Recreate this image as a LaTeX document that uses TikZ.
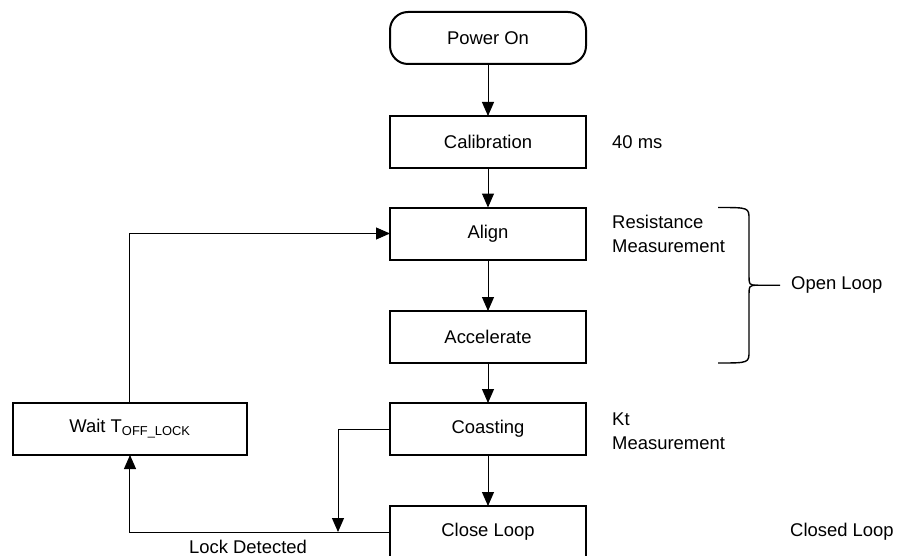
\documentclass[tikz,border=0pt]{standalone}
\usepackage{fontspec}
\setmainfont{Liberation Sans}
\usetikzlibrary{calc,positioning,arrows.meta}
\newcommand{\flowfont}{\fontsize{18.5}{24}\selectfont}
\tikzset{
	every node/.style={font=\flowfont},
	procbox/.style={draw, line width=2bp, outer sep=0pt, minimum width=196bp, minimum height=52bp, inner sep=0pt},
	startbox/.style={procbox, rounded corners=18bp},
	textlbl/.style={inner sep=0pt, align=left},
	flowarrow/.style={-{Triangle[length=14bp,width=12bp]}, line width=1bp},
	bracelin/.style={line width=1.4bp},
}

\begin{document}
\begin{tikzpicture}[x=1bp, y=-1bp]
        \useasboundingbox (0,0) rectangle (898,556);
        \node[startbox] (poweron) at (488,38) {Power On};
        \node[procbox, below=52bp of poweron] (calib) {Calibration};
        \node[procbox, below=39.5bp of calib] (align) {Align};
        \node[procbox, below=51.5bp of align] (accel) {Accelerate};
        \node[procbox, below=40bp of accel] (coast) {Coasting};
        \node[procbox, below=51bp of coast] (close) {Close Loop};
        \node[procbox, minimum width=234bp, left=143bp of coast] (wait) {Wait T\textsubscript{OFF\_LOCK}};

        \node[textlbl, right=26bp of calib] (ms) {40 ms};
        \node[textlbl, right=26bp of align] (resmeas) {Resistance\\Measurement};
        \node[textlbl, right=26bp of coast, yshift=-2bp] (ktmeas) {Kt\\Measurement};
        \node[textlbl, right=204bp of close] (closed) {Closed Loop};

        \draw[flowarrow] (poweron) -- (calib);
        \draw[flowarrow] (calib) -- (align);
        \draw[flowarrow] (align) -- (accel);
        \draw[flowarrow] (accel) -- (coast);
        \draw[flowarrow] (coast) -- (close);
        \draw[flowarrow] (wait.north) |- (align.west);
        \draw[flowarrow] (close.west) -| (wait.south);
        \coordinate (merge) at ($(close.west)+(-52,0)$);
        \draw[flowarrow] (coast.west) -| (merge);
        \node[textlbl] (lockdet) at (248,547) {Lock Detected};

        \coordinate (btop) at ($(align.north east)+(132,0)$);
        \coordinate (bbot) at ($(accel.south east)+(132,0)$);
        \coordinate (btip) at ($(btop)!0.5!(bbot)+(62,0)$);
        \draw[bracelin] (btop) .. controls ($(btop)+(31,0)$) .. ($(btop)+(31,12)$)
            -- ($(btip)+(-31,-12)$) .. controls ($(btip)+(-31,0)$) .. ($(btip)+(-22,0)$) -- (btip);
        \draw[bracelin] (bbot) .. controls ($(bbot)+(31,0)$) .. ($(bbot)+(31,-12)$)
            -- ($(btip)+(-31,12)$) .. controls ($(btip)+(-31,0)$) .. ($(btip)+(-22,0)$);
        \node[textlbl, right=11bp of btip] (openloop) {Open Loop};
    \end{tikzpicture}
\end{document}
